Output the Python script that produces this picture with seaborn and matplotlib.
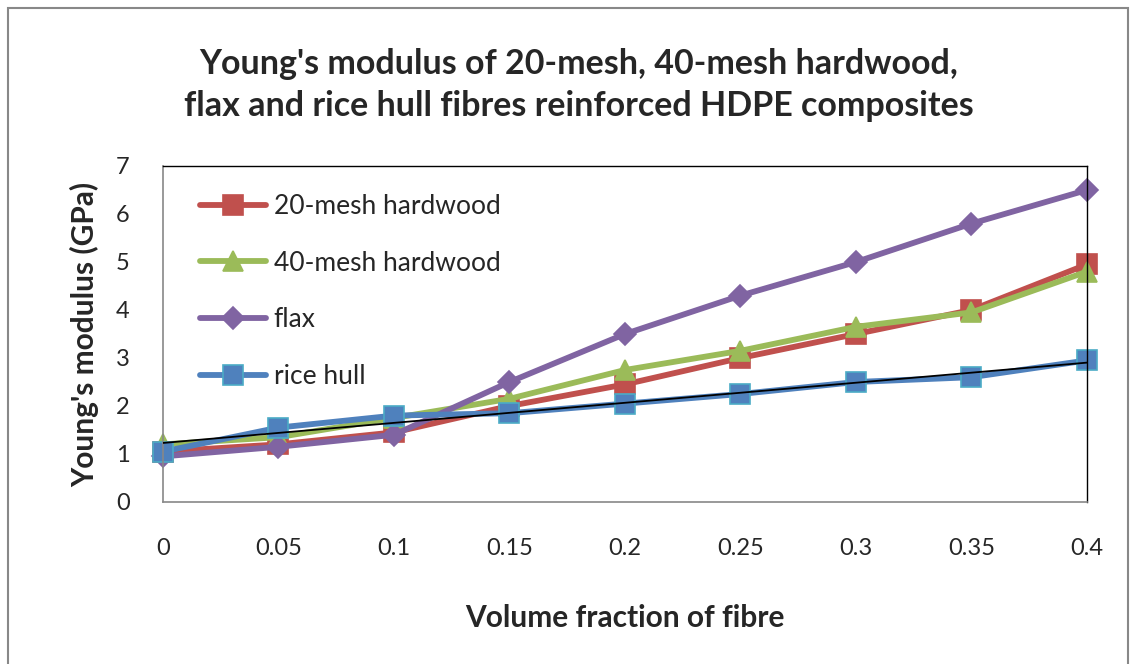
import matplotlib
matplotlib.use("Agg")
import matplotlib.pyplot as plt
import numpy as np
import pandas as pd
import seaborn as sns
from matplotlib.patches import Rectangle

# values
fraction = [0, 0.05, 0.1, 0.15, 0.2, 0.25, 0.3, 0.35, 0.4]
mesh20 = [1.05, 1.2, 1.45, 2.0, 2.45, 3.0, 3.5, 4.0, 4.95]
mesh40 = [1.2, 1.35, 1.75, 2.15, 2.75, 3.15, 3.65, 3.95, 4.8]
flax = [0.95, 1.15, 1.4, 2.5, 3.5, 4.3, 5.0, 5.8, 6.5]
rice_hull = [1.05, 1.55, 1.8, 1.85, 2.05, 2.25, 2.5, 2.6, 2.95]
x_ticks = [0, 0.05, 0.1, 0.15, 0.2, 0.25, 0.3, 0.35, 0.4]
x_tick_labels = ["0", "0.05", "0.1", "0.15", "0.2", "0.25", "0.3", "0.35", "0.4"]
y_ticks = [0, 1, 2, 3, 4, 5, 6, 7]

sns.set_theme(style="white")
plt.rcParams["font.family"] = ["Lato", "DejaVu Sans"]

series = [
    ("20-mesh hardwood", mesh20, "#C0504D", "s", "#C0504D", 14),
    ("40-mesh hardwood", mesh40, "#9BBB59", "^", "#9BBB59", 14),
    ("flax", flax, "#8064A2", "D", "#8064A2", 11),
    ("rice hull", rice_hull, "#4F81BD", "s", "#4BACC6", 15),
]

fig = plt.figure(figsize=(11.35, 6.64), dpi=100)
ax = fig.add_axes([0.1436, 0.244, 0.8141, 0.506])

for name, values, color, marker, edge, size in series:
    df = pd.DataFrame({"fraction": fraction, "modulus": values})
    sns.lineplot(data=df, x="fraction", y="modulus", ax=ax, color=color, linewidth=4.2,
                 marker=marker, markersize=size, markeredgecolor=edge, markeredgewidth=1.2,
                 label=name, clip_on=False)

# linear trendline through the rice hull series
slope, intercept = np.polyfit(fraction, rice_hull, 1)
trend_x = np.array([fraction[0], fraction[-1]])
ax.plot(trend_x, slope * trend_x + intercept, color="black", linewidth=1.3, zorder=5)

ax.set_xlim(0, 0.4)
ax.set_ylim(0, 7)
ax.set_xticks(x_ticks)
ax.set_xticklabels(x_tick_labels)
ax.set_yticks(y_ticks)
ax.tick_params(axis="x", direction="in", length=9, width=1, color="#888888", labelsize=17, pad=26)
ax.tick_params(axis="y", length=0, labelsize=17, pad=24)
for side in ["left", "bottom"]:
    ax.spines[side].set_color("#888888")
    ax.spines[side].set_linewidth(1.2)
for side in ["top", "right"]:
    ax.spines[side].set_color("black")
    ax.spines[side].set_linewidth(1.0)

ax.set_xlabel("Volume fraction of fibre", fontsize=21.5, weight="bold", labelpad=32)
ax.set_ylabel("Young's modulus (GPa)", fontsize=21.5, weight="bold", labelpad=12)

fig.suptitle("Young's modulus of 20-mesh, 40-mesh hardwood,\nflax and rice hull fibres reinforced HDPE composites",
             x=0.51, y=0.928, fontsize=24.5, weight="bold", linespacing=1.4)

ax.legend(loc="upper left", bbox_to_anchor=(0.02, 0.972), frameon=False, fontsize=19,
          handlelength=2.5, labelspacing=1.2, handletextpad=0.3, borderaxespad=0.3)

fig.patches.append(Rectangle((0.007, -0.02), 0.987, 1.008, transform=fig.transFigure,
                             fill=False, edgecolor="#888888", linewidth=1.5))

fig.savefig("out.png", dpi=100)
